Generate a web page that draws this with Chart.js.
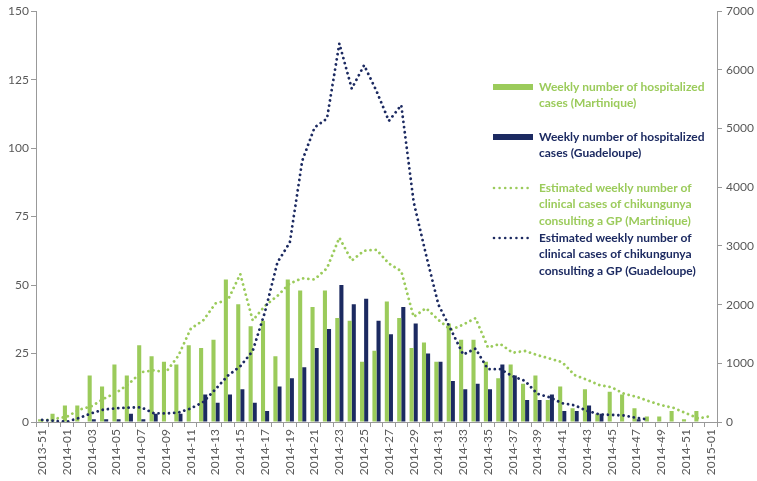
<!DOCTYPE html>
<html>
<head>
<meta charset="utf-8">
<script src="https://cdn.jsdelivr.net/npm/chart.js@4"></script>
<style>
  html, body { margin: 0; padding: 0; background: #fff; }
</style>
</head>
<body>
<canvas id="chart" width="757" height="481"></canvas>
<script>
const weeks = [
  '2013-51', '2013-52',
  '2014-01', '2014-02', '2014-03', '2014-04', '2014-05', '2014-06', '2014-07', '2014-08', '2014-09', '2014-10',
  '2014-11', '2014-12', '2014-13', '2014-14', '2014-15', '2014-16', '2014-17', '2014-18', '2014-19', '2014-20',
  '2014-21', '2014-22', '2014-23', '2014-24', '2014-25', '2014-26', '2014-27', '2014-28', '2014-29', '2014-30',
  '2014-31', '2014-32', '2014-33', '2014-34', '2014-35', '2014-36', '2014-37', '2014-38', '2014-39', '2014-40',
  '2014-41', '2014-42', '2014-43', '2014-44', '2014-45', '2014-46', '2014-47', '2014-48', '2014-49', '2014-50',
  '2014-51', '2014-52', '2015-01'
];

// hospitalised cases per week (left axis)
const hospMartinique = [
  1, 3, 6, 6, 17, 13, 21, 17, 28, 24, 22, 21, 28, 27, 30, 52, 43, 35, 37, 24,
  52, 48, 42, 48, 38, 37, 22, 26, 44, 38, 27, 29, 22, 36, 30, 30, 22, 16, 21, 14,
  17, 8, 13, 5, 12, 3, 11, 10, 5, 2, 2, 4, 1, 4, 0
];
const hospGuadeloupe = [
  0, 0, 0, 0, 1, 1, 1, 3, 1, 3, 0, 3, 0, 10, 7, 10, 12, 7, 4, 13,
  16, 20, 27, 34, 50, 43, 45, 37, 32, 42, 36, 25, 22, 15, 12, 14, 12, 21, 17, 8,
  8, 10, 4, 4, 6, 3, 0, 0, 1, 0, 0, 0, 0, 0, 0
];

// estimated clinical cases consulting a GP (right axis)
const gpMartinique = [
  25, 55, 90, 210, 270, 400, 500, 650, 850, 880, 850, 1130, 1590, 1730, 2020, 2080, 2520, 1730, 1980, 2150,
  2360, 2450, 2430, 2620, 3140, 2750, 2920, 2935, 2700, 2570, 1790, 1940, 1740, 1570, 1660, 1770, 1270, 1330, 1180, 1210,
  1140, 1080, 1020, 800, 720, 630, 590, 480, 430, 355, 286, 240, 150, 60, 100
];
const gpGuadeloupe = [
  35, 20, 5, 70, 150, 215, 235, 245, 250, 150, 146, 160, 230, 340, 560, 790, 950, 1210, 1880, 2720,
  3060, 4450, 5020, 5170, 6450, 5680, 6080, 5640, 5130, 5400, 3750, 2850, 2000, 1580, 1150, 1250, 900, 900, 780, 700,
  480, 420, 320, 285, 190, 130, 120, 110, 70, 40, null, null, null, null, null
];

const legendLines = [
  ['Weekly number of hospitalized', 'cases (Martinique)'],
  ['Weekly number of hospitalized', 'cases (Guadeloupe)'],
  ['Estimated weekly number of', 'clinical cases of chikungunya', 'consulting a GP (Martinique)'],
  ['Estimated weekly number of', 'clinical cases of chikungunya', 'consulting a GP (Guadeloupe)']
];

const GREEN = '#9BCB5B';
const NAVY = '#1C2A61';
const TEXT = '#595959';
const AXIS = '#999999';
const FONT = 'Lato';

// legend drawn inside the plot, Excel style
const sideLegend = {
  id: 'sideLegend',
  afterDraw(chart) {
    const c = chart.ctx;
    const tops = [87, 137, 188, 238];
    const x0 = 493, x1 = 533, tx = 539, lh = 16.5;
    c.save();
    c.font = 'bold 12px ' + FONT;
    c.textBaseline = 'middle';
    chart.data.datasets.forEach((ds, i) => {
      const col = ds.type === 'bar' ? ds.backgroundColor : ds.borderColor;
      const y = tops[i];
      c.fillStyle = col;
      if (ds.type === 'bar') {
        c.fillRect(x0, y - 3, x1 - x0, 6);
      } else {
        for (let x = x0 + 1; x <= x1; x += 5.6) {
          c.beginPath();
          c.arc(x, y, 1.3, 0, Math.PI * 2);
          c.fill();
        }
      }
      legendLines[i].forEach((t, k) => c.fillText(t, tx, y + k * lh));
    });
    c.restore();
  }
};

new Chart(document.getElementById('chart'), {
  data: {
    labels: weeks,
    datasets: [
      {
        type: 'bar',
        label: 'Weekly number of hospitalized cases (Martinique)',
        data: hospMartinique,
        backgroundColor: GREEN,
        yAxisID: 'y',
        categoryPercentage: 0.66,
        barPercentage: 1,
        order: 2
      },
      {
        type: 'bar',
        label: 'Weekly number of hospitalized cases (Guadeloupe)',
        data: hospGuadeloupe,
        backgroundColor: NAVY,
        yAxisID: 'y',
        categoryPercentage: 0.66,
        barPercentage: 1,
        order: 2
      },
      {
        type: 'line',
        label: 'Estimated weekly number of clinical cases of chikungunya consulting a GP (Martinique)',
        data: gpMartinique,
        borderColor: GREEN,
        borderWidth: 2.8,
        borderDash: [0.01, 5.2],
        borderCapStyle: 'round',
        pointRadius: 0,
        tension: 0,
        fill: false,
        yAxisID: 'y1',
        order: 1
      },
      {
        type: 'line',
        label: 'Estimated weekly number of clinical cases of chikungunya consulting a GP (Guadeloupe)',
        data: gpGuadeloupe,
        borderColor: NAVY,
        borderWidth: 2.8,
        borderDash: [0.01, 5.2],
        borderCapStyle: 'round',
        pointRadius: 0,
        tension: 0,
        fill: false,
        yAxisID: 'y1',
        order: 0
      }
    ]
  },
  options: {
    responsive: false,
    animation: false,
    layout: { padding: { top: 6 } },
    plugins: {
      legend: { display: false },
      tooltip: { enabled: false }
    },
    scales: {
      x: {
        offset: true,
        grid: { drawOnChartArea: false, offset: true, tickLength: 5, color: AXIS },
        border: { color: AXIS },
        ticks: {
          autoSkip: false,
          minRotation: 90,
          maxRotation: 90,
          padding: 2,
          color: TEXT,
          font: { family: FONT, size: 12 },
          callback(value, index) {
            return index % 2 === 0 ? this.getLabelForValue(value) : '';
          }
        },
        afterFit(scale) { scale.height = 59; }
      },
      y: {
        position: 'left',
        min: 0,
        max: 150,
        grid: { drawOnChartArea: false, tickLength: 5, color: AXIS },
        border: { color: AXIS },
        ticks: { stepSize: 25, padding: 2, color: TEXT, font: { family: FONT, size: 12 } },
        afterFit(scale) { scale.width = 36; }
      },
      y1: {
        position: 'right',
        min: 0,
        max: 7000,
        grid: { drawOnChartArea: false, tickLength: 5, color: AXIS },
        border: { color: AXIS },
        ticks: {
          stepSize: 1000,
          padding: 4,
          color: TEXT,
          font: { family: FONT, size: 12 },
          callback(value) { return String(value); }
        },
        afterFit(scale) { scale.width = 40; }
      }
    }
  },
  plugins: [sideLegend]
});
</script>
</body>
</html>
